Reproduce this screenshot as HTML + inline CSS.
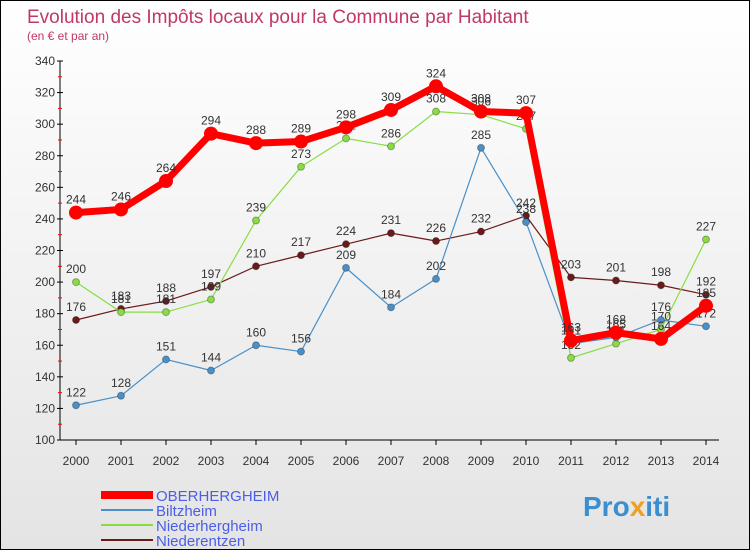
<!DOCTYPE html>
<html><head><meta charset="utf-8"><style>
body{margin:0;}
#wrap{width:748px;height:548px;border:1px solid #000;position:relative;overflow:hidden;background:linear-gradient(#fff,#e4e4e4);font-family:"Liberation Sans",sans-serif;}
svg text{font-family:"Liberation Sans",sans-serif;}
</style></head><body>
<div id="wrap">
<svg id="c" width="748" height="548">
<text x="26" y="22" font-size="19" fill="#c0386a">Evolution des Impôts locaux pour la Commune par Habitant</text>
<text x="26" y="39" font-size="12" fill="#c0386a">(en € et par an)</text>
<text x="582" y="515" font-size="28" font-weight="bold" fill="#3a8fd0">Pro<tspan fill="#f0a020">x</tspan>iti</text>
</svg>
</div>
<script>
const years=[2000,2001,2002,2003,2004,2005,2006,2007,2008,2009,2010,2011,2012,2013,2014];
const yTicks=[100,120,140,160,180,200,220,240,260,280,300,320,340];
const oberhergheim=[244,246,264,294,288,289,298,309,324,308,307,163,168,164,185];
const biltzheim=[122,128,151,144,160,156,209,184,202,285,238,161,165,176,172];
const niederhergheim=[200,181,181,189,239,273,291,286,308,306,297,152,161,170,227];
const niederentzen=[176,183,188,197,210,217,224,231,226,232,242,203,201,198,192];
const svg=document.getElementById('c');
const NS='http://www.w3.org/2000/svg';
const X=i=>75+i*45;
const Y=v=>439-(v-100)*379/240;
function mk(t,a){const e=document.createElementNS(NS,t);for(const k in a)e.setAttribute(k,a[k]);svg.appendChild(e);return e;}
let ax=mk('line',{x1:59,y1:Y(340),x2:59,y2:439,stroke:'#000'});


let bx=mk('line',{x1:59,y1:439,x2:718,y2:439,stroke:'#000'});


yTicks.forEach(v=>{
 mk('line',{x1:56,y1:Y(v),x2:62,y2:Y(v),stroke:'#000'});
 if(v<340)mk('line',{x1:57,y1:Y(v+10),x2:61,y2:Y(v+10),stroke:'red'});
 const t=mk('text',{x:54,y:Y(v)+4,'font-size':12,fill:'#333','text-anchor':'end'});
 t.textContent=v;
 
 
});
years.forEach((y,i)=>{
 mk('line',{x1:X(i),y1:439,x2:X(i),y2:444,stroke:'#000'});
 const t=mk('text',{x:X(i),y:464,'font-size':12,fill:'#333','text-anchor':'middle'});
 t.textContent=y;
 
 
});
function series(d,color,w,r,name){
 const p=mk('polyline',{points:d.map((v,i)=>X(i)+','+Y(v)).join(' '),fill:'none',stroke:color,'stroke-width':w,'stroke-linejoin':'round'});
 
 
 d.forEach((v,i)=>{
  const c=mk('circle',{cx:X(i),cy:Y(v),r:r,fill:color,stroke:'rgba(0,0,0,0.3)','stroke-width':w>3?0:1});
  
  
  const t=mk('text',{x:X(i),y:Y(v)-9,'font-size':12,fill:'#333','text-anchor':'middle'});
  t.textContent=v;
  
  
 });
}
series(niederentzen,'#6b1a1a',1.2,3.5,'niederentzen');
series(niederhergheim,'#88dd44',1.2,3.5,'niederhergheim');
series(biltzheim,'#4a90c8',1.2,3.5,'biltzheim');
series(oberhergheim,'#ff0000',7,7,'oberhergheim');
const legend=[['OBERHERGHEIM','#ff0000',8],['Biltzheim','#4a90c8',2],['Niederhergheim','#88dd44',2],['Niederentzen','#6b1a1a',2]];
legend.forEach((l,i)=>{
 const y=494+i*15;
 const ln=mk('line',{x1:100,y1:y,x2:152,y2:y,stroke:l[1],'stroke-width':l[2]});
 
 
 const t=mk('text',{x:155,y:y+6,'font-size':15,fill:'#4a5ee8'});
 t.textContent=l[0];
 
 
});
</script>
</body></html>
